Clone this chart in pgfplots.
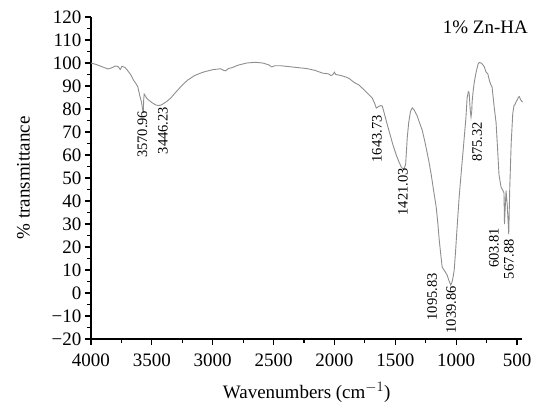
\documentclass[border=0pt]{standalone}
\usepackage{fontspec}
\setmainfont{Liberation Serif}
\usepackage{pgfplots}
\pgfplotsset{compat=1.18}
\definecolor{curvegray}{HTML}{8E8E8E}

\pgfplotstableread{
x y
4000 100
3960 99.4
3920 98.6
3880 97.8
3861 97.4
3830 97.9
3800 98.7
3779 98.5
3760 97.2
3745 98.6
3720 98.0
3700 96.8
3672 94.8
3650 92.5
3630 91.0
3615 89.6
3600 86
3585 83
3575 79.5
3570 79.0
3567 84
3563 86.5
3540 84.5
3500 82.8
3470 81.8
3446 81.5
3420 81.8
3380 83.2
3344 84.8
3300 87.5
3250 90.4
3205 92.6
3150 94.5
3100 95.6
3066 96.2
3000 97.1
2934 97.5
2910 96.8
2895 96.6
2870 97.6
2840 98
2795 99.0
2721 100
2650 100.3
2590 100
2540 99.2
2516 98.3
2490 98.8
2440 98.8
2369 98.4
2300 98
2230 97.6
2160 96.8
2098 95.6
2050 95.3
2030 94.6
2016 94.8
2000 96
1990 95
1950 94.6
1900 93.8
1877 93.2
1840 91.6
1800 90.5
1770 89
1740 87.5
1713 86
1690 84.8
1670 82.5
1656 80.4
1640 81.0
1620 81.5
1607 81.3
1590 78
1570 74
1549 70
1520 64.5
1492 60
1470 57
1451 54.8
1440 54
1426 54.3
1415 56
1408 62
1402 67.4
1390 74
1375 79
1361 80.5
1345 79.6
1320 77
1303 74.3
1280 71
1260 66.5
1246 63
1225 57.5
1205 51.5
1185 44.5
1164 37.4
1150 30
1139 23
1125 16
1115 11.3
1100 10
1090 9.2
1074 7.8
1060 5.5
1045 3.5
1035 4.5
1025 7
1016 10
1005 18
992 28.7
975 42
959 52
945 60.5
934 67.4
920 76
910 84.8
900 87.5
893 87
885 80
878 76.5
872 79
869 83
860 88
850 92
836 96
820 99.5
811 100.2
795 100
787 99.6
770 98.5
754 96
740 95.3
725 92
713 90.4
705 89.6
690 82
672 74
660 63
648 51.3
631 46
620 45
607 43.5
603 30
598 36
590 44.5
580 38
568 25.5
560 45
548 65
535 78
525 81.5
516 82
505 83.5
497 84
488 85.2
481 85.4
470 84
460 83.3
455 83
}\spectrum

\begin{document}
\begin{tikzpicture}
\begin{axis}[
  scale only axis,
  width=431.5pt, height=322pt,
  x dir=reverse,
  xmin=455, xmax=4000,
  ymin=-20, ymax=120,
  axis x line*=bottom, axis y line*=left,
  axis line style={line width=1.2pt, black},
  xtick={500,1000,...,4000},
  ytick={-20,-10,...,120},
  xticklabels={500,1000,1500,2000,2500,3000,3500,4000},
  yticklabels={−20,−10,0,10,20,30,40,50,60,70,80,90,100,110,120},
  minor x tick num=1, minor y tick num=1,
  tick align=outside,
  major tick length=6pt, minor tick length=4pt,
  tick style={line width=1.2pt, black},
  ticklabel style={font=\fontsize{19}{19}\selectfont},
  xticklabel style={yshift=-5pt},
  xlabel={Wavenumbers (cm$^{-1}$)},
  ylabel={\% transmittance},
  every axis x label/.style={at={([yshift=-59pt]rel axis cs:0.5,0)}, anchor=base, inner sep=0pt, font=\fontsize{19}{19}\selectfont},
  every axis y label/.style={at={([xshift=-67.5pt]rel axis cs:0,0.5)}, rotate=90, anchor=center, inner sep=0pt, font=\fontsize{19}{19}\selectfont},
  clip=false,
]
\addplot[curvegray, line width=0.9pt] table[x=x, y=y] {\spectrum};
\coordinate (O) at (rel axis cs:0,0);
\begin{scope}[every node/.style={rotate=90, anchor=east, inner sep=0pt, font=\fontsize{14.5}{14.5}\selectfont}]
\node at (axis cs:3578,79.3) {3570.96};
\node at (axis cs:3410,81) {3446.23};
\node at (axis cs:1650,77.4) {1643.73};
\node at (axis cs:1437,54.3) {1421.03};
\node at (axis cs:828,74.4) {875.32};
\node at (axis cs:1198,8.7) {1095.83};
\node at (axis cs:1042,3.0) {1039.86};
\node at (axis cs:689,28.3) {603.81};
\node at (axis cs:566,23.5) {567.88};
\end{scope}
\node[anchor=east, inner sep=0pt, font=\fontsize{19}{19}\selectfont] at (axis cs:410,115.7) {1\% Zn-HA};
\end{axis}
\path (O) ++(-91pt,-71pt) rectangle ++(538pt,410pt);
\end{tikzpicture}
\end{document}
